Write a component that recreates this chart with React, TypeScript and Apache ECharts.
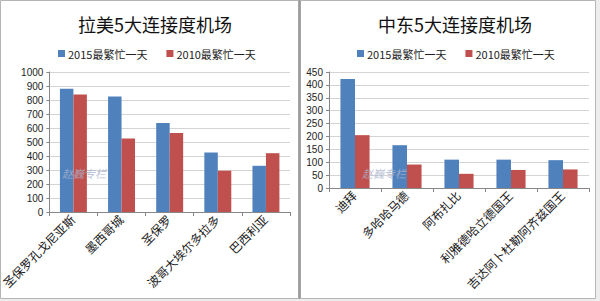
import React, { useEffect, useRef } from "react";
import * as echarts from "echarts";

const latamCategories = ["圣保罗孔戈尼亚斯", "墨西哥城", "圣保罗", "波哥大埃尔多拉多", "巴西利亚"];
const latam2015 = [880, 825, 635, 425, 330];
const latam2010 = [840, 525, 565, 295, 420];

const meCategories = ["迪拜", "多哈哈马德", "阿布扎比", "利雅德哈立德国王", "吉达阿卜杜勒阿齐兹国王"];
const me2015 = [423, 166, 110, 110, 108];
const me2010 = [205, 91, 55, 70, 72];

const leftTitle = "拉美5大连接度机场";
const rightTitle = "中东5大连接度机场";
const seriesNames = ["2015最繁忙一天", "2010最繁忙一天"];
const watermark = "赵巍专栏";

const BLUE = "#4F81BD";
const RED = "#C0504D";
const SANS = "'Noto Sans CJK SC', 'Noto Sans', sans-serif";
const SERIF = "'Liberation Serif', 'Noto Sans CJK SC', serif";

export default function App() {
  const ref = useRef<HTMLDivElement>(null);
  useEffect(() => {
    if (!ref.current) return;
    const chart = echarts.init(ref.current, undefined, { renderer: "svg" });
    const xAxisCommon = {
      type: "category" as const,
      axisLine: { lineStyle: { color: "#868686" } },
      axisTick: { show: true, alignWithLabel: false, length: 4, lineStyle: { color: "#868686" } },
      axisLabel: { interval: 0, rotate: 45, fontSize: 12, color: "#1a1a1a", fontFamily: SERIF, margin: 6, lineHeight: 12 },
    };
    const yAxisCommon = {
      type: "value" as const,
      axisLine: { show: true, lineStyle: { color: "#868686" } },
      axisTick: { show: true, length: 3, lineStyle: { color: "#868686" } },
      splitLine: { lineStyle: { color: "#d4d4d4" } },
      axisLabel: { fontSize: 10, color: "#222", fontFamily: "'Liberation Sans', Arial, sans-serif", margin: 6, lineHeight: 10, formatter: (v: number) => String(v) },
    };
    chart.setOption({
      animation: false,
      backgroundColor: "#ededed",
      graphic: [
        { type: "rect", shape: { x: 0.5, y: 0.5, width: 298, height: 298 }, style: { fill: "#fff", stroke: "#b5b5b5", lineWidth: 1 }, z: -10 },
        { type: "rect", shape: { x: 300.5, y: 0.5, width: 295, height: 298 }, style: { fill: "#fff", stroke: "#b5b5b5", lineWidth: 1 }, z: -10 },
        { type: "line", shape: { x1: 299.5, y1: 0, x2: 299.5, y2: 299 }, style: { stroke: "#9a9a9a", lineWidth: 2 }, z: -9 },
        { type: "text", x: 62, y: 167, style: { text: watermark, fill: "rgba(170,180,205,0.8)", font: `italic 11px ${SANS}` }, z: 100 },
        { type: "text", x: 362, y: 167, style: { text: watermark, fill: "rgba(170,180,205,0.8)", font: `italic 11px ${SANS}` }, z: 100 },
      ],
      title: [
        { text: leftTitle, left: 150, top: 10, textAlign: "center", textStyle: { fontSize: 18, fontWeight: "normal", color: "#111", fontFamily: SANS } },
        { text: rightTitle, left: 450, top: 10, textAlign: "center", textStyle: { fontSize: 18, fontWeight: "normal", color: "#111", fontFamily: SANS } },
      ],
      legend: [
        { data: seriesNames, left: 53, top: 43, itemWidth: 7, itemHeight: 7, itemGap: 19, icon: "rect", textStyle: { fontSize: 11, color: "#222", fontFamily: SANS, padding: [0, 0, 0, -2] } },
        { data: seriesNames, left: 352, top: 43, itemWidth: 7, itemHeight: 7, itemGap: 19, icon: "rect", textStyle: { fontSize: 11, color: "#222", fontFamily: SANS, padding: [0, 0, 0, -2] } },
      ],
      grid: [
        { left: 41, top: 72, width: 249, height: 140 },
        { left: 329, top: 72, width: 260, height: 116 },
      ],
      xAxis: [
        { ...xAxisCommon, gridIndex: 0, data: latamCategories },
        { ...xAxisCommon, gridIndex: 1, data: meCategories },
      ],
      yAxis: [
        { ...yAxisCommon, gridIndex: 0, min: 0, max: 1000, interval: 100 },
        { ...yAxisCommon, gridIndex: 1, min: 0, max: 450, interval: 50 },
      ],
      series: [
        { name: seriesNames[0], type: "bar", xAxisIndex: 0, yAxisIndex: 0, data: latam2015, itemStyle: { color: BLUE }, barGap: "0%", barCategoryGap: "44%" },
        { name: seriesNames[1], type: "bar", xAxisIndex: 0, yAxisIndex: 0, data: latam2010, itemStyle: { color: RED }, barGap: "0%", barCategoryGap: "44%" },
        { name: seriesNames[0], type: "bar", xAxisIndex: 1, yAxisIndex: 1, data: me2015, itemStyle: { color: BLUE }, barGap: "0%", barCategoryGap: "44%" },
        { name: seriesNames[1], type: "bar", xAxisIndex: 1, yAxisIndex: 1, data: me2010, itemStyle: { color: RED }, barGap: "0%", barCategoryGap: "44%" },
      ],
    });
    return () => chart.dispose();
  }, []);
  return <div ref={ref} style={{ position: "absolute", left: 0, top: 0, width: 600, height: 301 }} />;
}
